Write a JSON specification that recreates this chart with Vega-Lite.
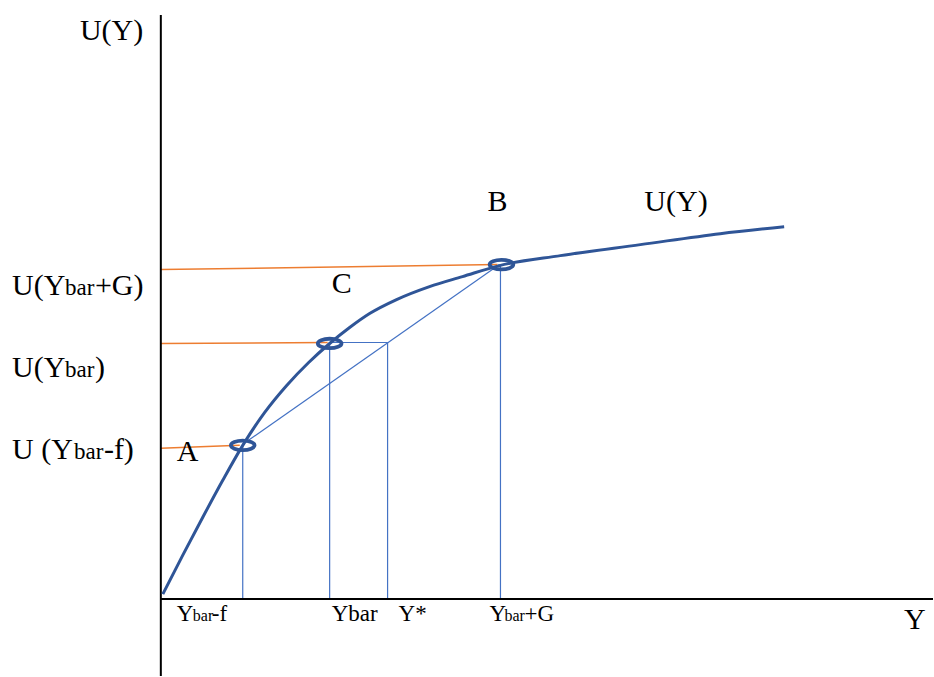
{
  "$schema": "https://vega.github.io/schema/vega-lite/v6.json",
  "width": 934,
  "height": 677,
  "autosize": {"type": "fit", "contains": "padding"},
  "padding": 0,
  "background": "white",
  "config": {"view": {"stroke": null}},
  "datasets": {
    "segments": [
      {"kind": "axis", "x": 0, "y": -77, "x2": 0, "y2": 585},
      {"kind": "axis", "x": 0, "y": 0, "x2": 773, "y2": 0},
      {"kind": "orange", "x": 0, "y": 151, "x2": 79, "y2": 154},
      {"kind": "orange", "x": 0, "y": 256, "x2": 167, "y2": 257},
      {"kind": "orange", "x": 0, "y": 330, "x2": 337, "y2": 335},
      {"kind": "blue", "x": 82, "y": 155, "x2": 339, "y2": 335},
      {"kind": "blue", "x": 169, "y": 257, "x2": 227, "y2": 257},
      {"kind": "blue", "x": 82, "y": 0, "x2": 82, "y2": 155},
      {"kind": "blue", "x": 169, "y": 0, "x2": 169, "y2": 257},
      {"kind": "blue", "x": 227, "y": 0, "x2": 227, "y2": 257},
      {"kind": "blue", "x": 340, "y": 0, "x2": 340, "y2": 335}
    ],
    "curve": [
      {"x": 2, "y": 5},
      {"x": 22, "y": 44},
      {"x": 42, "y": 82},
      {"x": 62, "y": 119},
      {"x": 82, "y": 154},
      {"x": 104, "y": 187},
      {"x": 126, "y": 214},
      {"x": 148, "y": 237},
      {"x": 169, "y": 256},
      {"x": 189, "y": 272},
      {"x": 209, "y": 286},
      {"x": 236, "y": 300},
      {"x": 269, "y": 313},
      {"x": 302, "y": 323},
      {"x": 339, "y": 334},
      {"x": 400, "y": 344},
      {"x": 480, "y": 355},
      {"x": 560, "y": 366},
      {"x": 624, "y": 373}
    ],
    "points": [
      {"name": "A", "x": 82, "y": 154},
      {"name": "C", "x": 169, "y": 256},
      {"name": "B", "x": 341, "y": 335}
    ],
    "labels": [
      {"size": "big", "text": "U(Y)", "x": -81, "y": 560},
      {"size": "big", "text": "A", "x": 16, "y": 138},
      {"size": "big", "text": "C", "x": 171, "y": 307},
      {"size": "big", "text": "B", "x": 327, "y": 389},
      {"size": "big", "text": "U(Y)", "x": 484, "y": 389},
      {"size": "big", "text": "Y", "x": 744, "y": -30},
      {"size": "left", "text": "U(Y", "x": -149, "y": 305},
      {"size": "leftsub", "text": "bar", "x": -96, "y": 305},
      {"size": "left", "text": "+G)", "x": -66, "y": 305},
      {"size": "left", "text": "U(Y", "x": -149, "y": 222},
      {"size": "leftsub", "text": "bar", "x": -96, "y": 222},
      {"size": "left", "text": ")", "x": -66, "y": 222},
      {"size": "left", "text": "U (Y", "x": -149, "y": 140},
      {"size": "leftsub", "text": "bar", "x": -87, "y": 140},
      {"size": "left", "text": "-f)", "x": -57, "y": 140},
      {"size": "bottom", "text": "Y", "x": 16, "y": -22},
      {"size": "bottomsub", "text": "bar", "x": 32, "y": -22},
      {"size": "bottom", "text": "-f", "x": 51, "y": -22},
      {"size": "bottom", "text": "Ybar", "x": 171, "y": -22},
      {"size": "bottom", "text": "Y*", "x": 238, "y": -22},
      {"size": "bottom", "text": "Y", "x": 329, "y": -22},
      {"size": "bottomsub", "text": "bar", "x": 344, "y": -22},
      {"size": "bottom", "text": "+G", "x": 364, "y": -22}
    ]
  },
  "layer": [
    {
      "data": {"name": "segments"},
      "transform": [{"filter": "datum.kind === 'orange'"}],
      "mark": {"type": "rule", "stroke": "#ED7D31", "strokeWidth": 1.5},
      "encoding": {
        "x": {"field": "x", "type": "quantitative", "scale": {"domain": [-161, 773], "nice": false, "zero": false}, "axis": null},
        "y": {"field": "y", "type": "quantitative", "scale": {"domain": [-77, 600], "nice": false, "zero": false}, "axis": null},
        "x2": {"field": "x2"},
        "y2": {"field": "y2"}
      }
    },
    {
      "data": {"name": "segments"},
      "transform": [{"filter": "datum.kind === 'blue'"}],
      "mark": {"type": "rule", "stroke": "#4472C4", "strokeWidth": 1.2},
      "encoding": {
        "x": {"field": "x", "type": "quantitative", "scale": {"domain": [-161, 773], "nice": false, "zero": false}, "axis": null},
        "y": {"field": "y", "type": "quantitative", "scale": {"domain": [-77, 600], "nice": false, "zero": false}, "axis": null},
        "x2": {"field": "x2"},
        "y2": {"field": "y2"}
      }
    },
    {
      "data": {"name": "segments"},
      "transform": [{"filter": "datum.kind === 'axis'"}],
      "mark": {"type": "rule", "stroke": "black", "strokeWidth": 2},
      "encoding": {
        "x": {"field": "x", "type": "quantitative", "scale": {"domain": [-161, 773], "nice": false, "zero": false}, "axis": null},
        "y": {"field": "y", "type": "quantitative", "scale": {"domain": [-77, 600], "nice": false, "zero": false}, "axis": null},
        "x2": {"field": "x2"},
        "y2": {"field": "y2"}
      }
    },
    {
      "data": {"name": "curve"},
      "mark": {"type": "line", "stroke": "#2F5597", "strokeWidth": 3, "interpolate": "monotone"},
      "encoding": {
        "x": {"field": "x", "type": "quantitative", "scale": {"domain": [-161, 773], "nice": false, "zero": false}, "axis": null},
        "y": {"field": "y", "type": "quantitative", "scale": {"domain": [-77, 600], "nice": false, "zero": false}, "axis": null}
      }
    },
    {
      "data": {"name": "points"},
      "mark": {"type": "point", "shape": "M -1 0 A 1 0.4 0 1 0 1 0 A 1 0.4 0 1 0 -1 0 Z", "size": 560, "filled": false, "stroke": "#2F5597", "strokeWidth": 3.8, "opacity": 1},
      "encoding": {
        "x": {"field": "x", "type": "quantitative", "scale": {"domain": [-161, 773], "nice": false, "zero": false}, "axis": null},
        "y": {"field": "y", "type": "quantitative", "scale": {"domain": [-77, 600], "nice": false, "zero": false}, "axis": null}
      }
    },
    {
      "data": {"name": "labels"},
      "transform": [{"filter": "datum.size === 'big'"}],
      "mark": {"type": "text", "font": "Liberation Serif", "fontSize": 30, "align": "left", "baseline": "alphabetic", "color": "black"},
      "encoding": {
        "x": {"field": "x", "type": "quantitative", "scale": {"domain": [-161, 773], "nice": false, "zero": false}, "axis": null},
        "y": {"field": "y", "type": "quantitative", "scale": {"domain": [-77, 600], "nice": false, "zero": false}, "axis": null},
        "text": {"field": "text"}
      }
    },
    {
      "data": {"name": "labels"},
      "transform": [{"filter": "datum.size === 'left'"}],
      "mark": {"type": "text", "font": "Liberation Serif", "fontSize": 30, "align": "left", "baseline": "alphabetic", "color": "black"},
      "encoding": {
        "x": {"field": "x", "type": "quantitative", "scale": {"domain": [-161, 773], "nice": false, "zero": false}, "axis": null},
        "y": {"field": "y", "type": "quantitative", "scale": {"domain": [-77, 600], "nice": false, "zero": false}, "axis": null},
        "text": {"field": "text"}
      }
    },
    {
      "data": {"name": "labels"},
      "transform": [{"filter": "datum.size === 'leftsub'"}],
      "mark": {"type": "text", "font": "Liberation Serif", "fontSize": 23, "align": "left", "baseline": "alphabetic", "color": "black"},
      "encoding": {
        "x": {"field": "x", "type": "quantitative", "scale": {"domain": [-161, 773], "nice": false, "zero": false}, "axis": null},
        "y": {"field": "y", "type": "quantitative", "scale": {"domain": [-77, 600], "nice": false, "zero": false}, "axis": null},
        "text": {"field": "text"}
      }
    },
    {
      "data": {"name": "labels"},
      "transform": [{"filter": "datum.size === 'bottom'"}],
      "mark": {"type": "text", "font": "Liberation Serif", "fontSize": 23, "align": "left", "baseline": "alphabetic", "color": "black"},
      "encoding": {
        "x": {"field": "x", "type": "quantitative", "scale": {"domain": [-161, 773], "nice": false, "zero": false}, "axis": null},
        "y": {"field": "y", "type": "quantitative", "scale": {"domain": [-77, 600], "nice": false, "zero": false}, "axis": null},
        "text": {"field": "text"}
      }
    },
    {
      "data": {"name": "labels"},
      "transform": [{"filter": "datum.size === 'bottomsub'"}],
      "mark": {"type": "text", "font": "Liberation Serif", "fontSize": 16, "align": "left", "baseline": "alphabetic", "color": "black"},
      "encoding": {
        "x": {"field": "x", "type": "quantitative", "scale": {"domain": [-161, 773], "nice": false, "zero": false}, "axis": null},
        "y": {"field": "y", "type": "quantitative", "scale": {"domain": [-77, 600], "nice": false, "zero": false}, "axis": null},
        "text": {"field": "text"}
      }
    }
  ]
}
